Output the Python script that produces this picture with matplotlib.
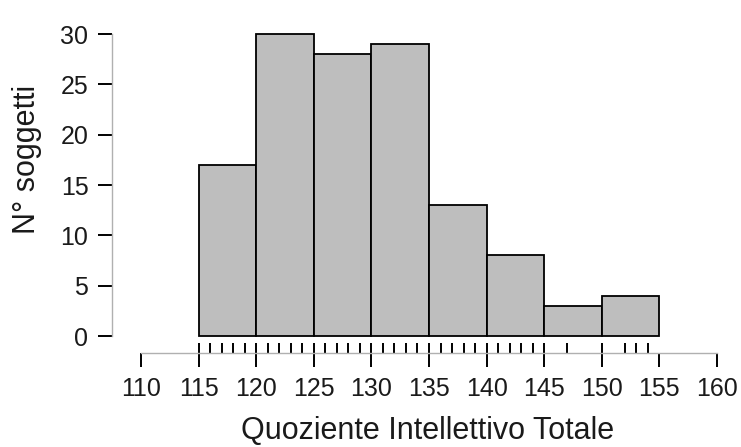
import numpy as np
import matplotlib
matplotlib.use("Agg")
import matplotlib.pyplot as plt

plt.rcParams['font.family'] = ['Liberation Sans', 'DejaVu Sans']

# histogram bins and counts
bin_edges = [115, 120, 125, 130, 135, 140, 145, 150, 155]
counts = [17, 30, 28, 29, 13, 8, 3, 4]

# rug of observed (integer) IQ values
rug_values = list(range(115, 146)) + [147, 150, 152, 153, 154]

x_ticks = [110, 115, 120, 125, 130, 135, 140, 145, 150, 155, 160]
y_ticks = [0, 5, 10, 15, 20, 25, 30]

W, H = 741, 447
fig = plt.figure(figsize=(W / 100, H / 100), dpi=100)

# axes box in pixels: left 112, right 730, bottom 353, top 10
left, right, bottom, top = 112, 730, 353, 10
ax = fig.add_axes([left / W, 1 - bottom / H, (right - left) / W, (bottom - top) / H])

# pixel mapping: 110 -> 141 px, 160 -> 717 px ; 0 -> 336 px, 30 -> 34 px
xs = (717 - 141) / 50
ys = (336 - 34) / 30
ax.set_xlim(110 - (141 - left) / xs, 110 + (right - 141) / xs)
ax.set_ylim((336 - bottom) / ys, (336 - top) / ys)

widths = np.diff(bin_edges)
ax.bar(bin_edges[:-1], counts, width=widths, align='edge',
       color='#bebebe', edgecolor='black', linewidth=1.3)

# rug just above the x-axis line
ax.vlines(rug_values, 0, 10 / (bottom - top), transform=ax.get_xaxis_transform(),
          color='black', linewidth=1.4)

for s in ['top', 'right']:
    ax.spines[s].set_visible(False)
ax.spines['left'].set_bounds(0, 30)
ax.spines['bottom'].set_bounds(110, 160)
for s in ['left', 'bottom']:
    ax.spines[s].set_color('#b0b0b0')
    ax.spines[s].set_linewidth(1.0)

ax.set_xticks(x_ticks)
ax.set_yticks(y_ticks)
ax.tick_params(axis='both', length=10, width=1.4, color='black',
               labelsize=18, labelcolor='#1a1a1a', pad=7)

# axis titles placed like the reference (R-style margins)
fig.text(428 / W, 1 - 446 / H, 'Quoziente Intellettivo Totale', fontsize=22,
         color='#1a1a1a', ha='center', va='bottom')
fig.text(27 / W, 1 - 159 / H, 'N° soggetti', fontsize=22, color='#1a1a1a',
         ha='center', va='center', rotation=90)

fig.savefig('out.png', dpi=100)
